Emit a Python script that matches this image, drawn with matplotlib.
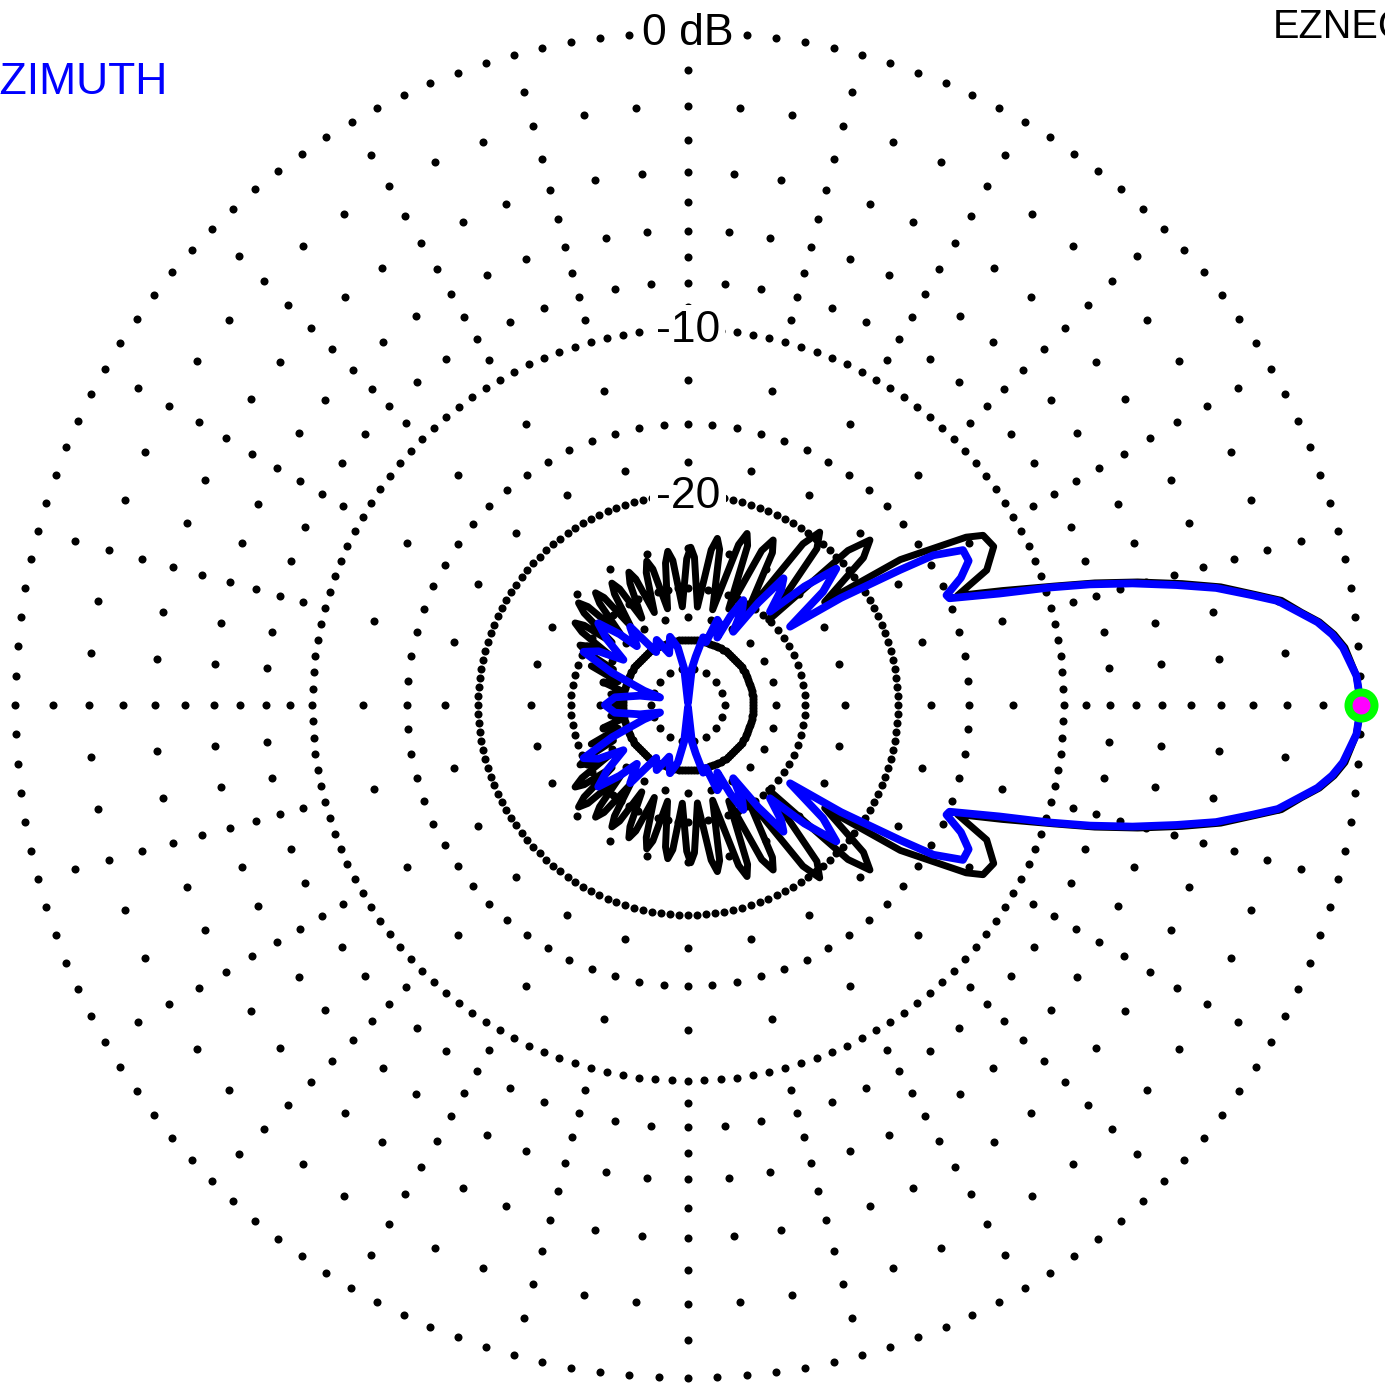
#EZNEC style azimuth pattern on an ARRL log grid

import numpy as np
import matplotlib
matplotlib.use("Agg")
from matplotlib import pyplot as plt

plt.rcParams['font.family'] = ['Liberation Sans', 'DejaVu Sans']

#Pattern values, upper half (0..180 deg); the plot is symmetric about 0 deg
black_ang = [0, 2.5, 5, 6.25, 7.5, 8.6, 10, 11, 12.5, 13.8,
             15.3, 16.7, 18, 20, 22.1, 24.3, 27.4, 29.9, 31.1, 34.4,
             37, 40, 42.2, 44, 46.5, 50.5, 52.7, 54.5, 57.5, 61,
             62.7, 64.5, 67, 69.5, 71, 72.5, 75.5, 78.5, 80, 81.5,
             84.5, 87.5, 89, 90.5, 93.3, 96, 97.5, 99, 102, 104.5,
             106, 107.5, 110, 112.5, 114, 115.5, 118, 120.5, 122, 123.5,
             126, 128, 129.5, 131, 133.5, 135.5, 137, 138.5, 140.5, 142.5,
             144, 145.5, 147.5, 149.5, 151, 152.5, 154.5, 158, 161.5, 165,
             168.5, 172, 176, 180]
black_db = [0, -0.1, -0.35, -0.6, -0.95, -1.4, -1.9, -2.6, -3.6, -4.8,
            -6.3, -7.9, -9.6, -12.0, -14.4, -12.35, -11.5, -11.7, -12.5, -16.5,
            -23.5, -18.5, -17.3, -19, -30, -20.6, -19.4, -21, -31, -23.2,
            -22.1, -23.5, -32, -23.6, -22.5, -23.8, -33, -24.8, -23.7, -25,
            -33, -26, -24.9, -26.2, -33, -26.3, -25.2, -26.5, -33, -26.9,
            -25.8, -27.1, -33, -27.4, -26.3, -27.6, -33, -27.6, -26.5, -27.8,
            -33, -27.4, -26.3, -27.6, -33, -26.9, -25.8, -27.1, -33, -28.1,
            -27.0, -28.4, -34, -30.2, -29.1, -30.5, -36, -32, -38, -35,
            -40, -37, -40, -38]

blue_ang = [0, 2.5, 5, 6.25, 7.5, 8.6, 10, 11, 12.5, 13.8,
            15.3, 16.7, 18, 19.7, 22.2, 23, 25, 27.2, 29.4, 31.4,
            32.5, 35, 37.5, 40, 42.6, 45.5, 48.7, 51, 53, 55.5,
            58.3, 60.5, 62.2, 64.5, 66.5, 69, 71, 74, 77.4, 81,
            84, 90, 96, 100, 104.8, 110, 115.7, 121, 126.5, 131,
            134, 137.7, 141, 145, 149, 153, 157, 162, 165, 169,
            174, 180]
blue_db = [0, -0.1, -0.4, -0.65, -1.0, -1.45, -2.0, -2.7, -3.75, -5.0,
           -6.5, -8.1, -9.8, -12.2, -14.9, -15.0, -13.8, -13.0, -13.0, -14.6,
           -16.9, -22, -28.4, -23, -20.7, -24, -29, -26, -24.8, -29,
           -35.3, -31, -29.8, -33, -38, -35, -34.5, -40, -39, -45,
           -50, -99, -50, -42, -38.7, -43, -38.3, -41, -33.2, -37,
           -33, -29.4, -32, -36.8, -32, -30, -36, -46, -54, -45,
           -38, -35.9]

#Grid description
ring_db = [0, -10, -15, -20, -30, -40, -50]
ring_step = [2.5, 2.5, 5, 2.5, 5, 2.5, 20]
spoke_db = [-1, -2, -3, -4, -5, -6, -7, -8, -9, -12.5, -17.5, -25, -35]
minor_db = [-2, -4, -6, -8]
ring_labels = ['0 dB', '-10', '-20']
label_db = [0, -10, -20]


def arrl(db):
    #ARRL log scale: radius shrinks to 0.89 for every 2 dB
    return 0.89 ** (-np.asarray(db, dtype=float) / 2.0)


def mirror(ang, db):
    ang = np.asarray(ang, dtype=float)
    db = np.asarray(db, dtype=float)
    full_ang = np.concatenate([ang, 360 - ang[-2::-1]])
    full_db = np.concatenate([db, db[-2::-1]])
    return np.radians(full_ang), arrl(full_db)


W, H = 1385, 1386
fig = plt.figure(figsize=(W / 100, H / 100), dpi=100)
cx, cy, R = 688, 705, 673
ax = fig.add_axes([(cx - R) / W, (H - cy - R) / H, 2 * R / W, 2 * R / H],
                  projection='polar')
ax.set_theta_zero_location('E')
ax.set_ylim(0, 1)
ax.set_xticks([])
ax.set_yticks([])
ax.grid(False)
ax.spines['polar'].set_visible(False)
ax.patch.set_visible(False)

dot = dict(linestyle='none', marker='o', ms=5.8, mew=0, color='black',
           clip_on=False, zorder=1)

#dotted rings
for level, step in zip(ring_db, ring_step):
    th = np.arange(0, 360, step)
    ax.plot(np.radians(th), np.full(th.size, arrl(level)), **dot)

#spokes every 15 deg, 1 dB dots
for level in spoke_db:
    th = np.arange(0, 360, 15)
    ax.plot(np.radians(th), np.full(th.size, arrl(level)), **dot)

#in-between dots every 5 deg at even dB
for level in minor_db:
    th = np.array([a for a in range(0, 360, 5) if a % 15 != 0])
    ax.plot(np.radians(th), np.full(th.size, arrl(level)), **dot)

#ring labels
for text, level in zip(ring_labels, label_db):
    ax.annotate(text, xy=(np.pi / 2, arrl(level)), xytext=(0, -9.5),
                textcoords='offset points', ha='center', va='baseline',
                fontsize=32, color='black', zorder=3, annotation_clip=False,
                bbox=dict(boxstyle='square,pad=0.12', fc='white', ec='none'))

#pattern traces
th, r = mirror(black_ang, black_db)
ax.plot(th, r, color='black', lw=5.0, solid_joinstyle='round',
        solid_capstyle='round', clip_on=False, zorder=4)
th, r = mirror(blue_ang, blue_db)
ax.plot(th, r, color=(0, 0, 1), lw=5.6, solid_joinstyle='round',
        solid_capstyle='round', clip_on=False, zorder=5)

#max gain marker
ax.plot([0], [arrl(0)], 'o', ms=18.7, mfc=(1, 0, 1), mec=(0, 1, 0),
        mew=5.8, clip_on=False, zorder=6)

fig.text(-29 / W, 1 - 94 / H, 'AZIMUTH', color=(0, 0, 1), fontsize=32,
         ha='left', va='baseline')
fig.text(1273 / W, 1 - 38 / H, 'EZNEC+', color='black', fontsize=28.5,
         ha='left', va='baseline')

fig.savefig('out.png', dpi=100, facecolor='white')
